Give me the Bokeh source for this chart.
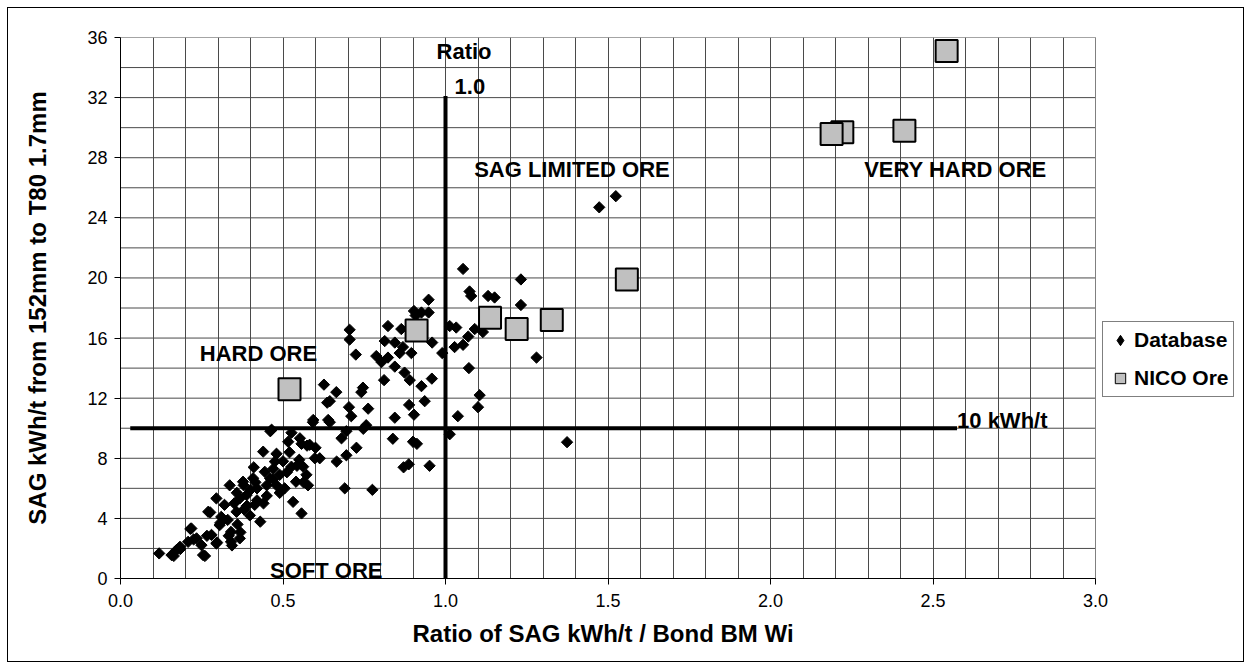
import math
from bokeh.plotting import figure
from bokeh.layouts import column
from bokeh.models import (Range1d, SingleIntervalTicker, FixedTicker, NumeralTickFormatter,
                          Legend, LegendItem, Label, Title, ColumnDataSource)
from bokeh.embed import file_html
from bokeh.resources import INLINE

# ---------------- data ----------------
db_x = [0.119, 0.157, 0.172, 0.183, 0.208, 0.218, 0.234, 0.254, 0.249, 0.27, 0.28, 0.295, 0.295, 0.305,
        0.32, 0.336, 0.34, 0.34, 0.357, 0.367, 0.367, 0.377, 0.388, 0.398, 0.408, 0.413, 0.43, 0.42,
        0.439, 0.444, 0.46, 0.465, 0.475, 0.49, 0.505, 0.516, 0.526, 0.531, 0.54, 0.552, 0.557, 0.562,
        0.572, 0.577, 0.582, 0.593, 0.598, 0.613, 0.639, 0.644, 0.665, 0.68, 0.69, 0.695, 0.695,
        0.164, 0.184, 0.215, 0.225, 0.26, 0.266, 0.276, 0.297, 0.307, 0.333, 0.343, 0.358, 0.369, 0.379,
        0.389, 0.415, 0.45, 0.47, 0.48, 0.49, 0.512, 0.543, 0.563, 0.574,
        0.31, 0.35, 0.38, 0.40, 0.42, 0.45, 0.47, 0.50, 0.52, 0.55, 0.36, 0.33, 0.41, 0.44, 0.48,
        0.526, 0.557, 0.60, 0.726, 0.747,
        1.054, 1.074, 1.079, 1.131, 1.151, 0.948, 0.903, 0.926, 0.948, 0.823, 1.013, 1.033, 0.864,
        0.705, 0.705, 0.813, 0.844, 1.028, 1.054, 0.959, 0.869, 0.859, 0.895, 0.99, 0.724, 0.787,
        0.803, 0.823, 0.844, 1.072, 0.874, 0.89, 0.811, 0.958, 0.926, 0.626, 0.664, 0.746, 0.636,
        0.741, 1.105, 1.10, 0.936, 0.888, 0.903, 1.038, 0.844, 0.703, 0.762, 0.592, 0.644, 0.71,
        0.756, 0.461, 1.013, 0.838, 0.90,
        1.232, 1.232, 1.28, 1.115, 1.07, 1.09, 0.908,
        0.912, 0.887, 0.871, 0.951, 1.374,
        1.473, 1.524, 0.775]
db_y = [1.67, 1.56, 1.89, 2.11, 2.44, 3.33, 2.67, 1.56, 2.22, 4.44, 2.9, 5.33, 2.33, 3.55,
        4.9, 6.2, 3.1, 2.44, 4.44, 5.33, 2.67, 6.44, 5.55, 4.2, 6.67, 4.9, 3.78, 6.0,
        8.44, 7.1, 6.67, 9.9, 7.78, 6.9, 6.0, 9.1, 7.44, 5.1, 6.44, 9.33, 4.33, 7.44,
        6.9, 6.2, 8.9, 10.55, 8.0, 8.0, 10.55, 11.8, 7.78, 9.33, 6.0, 8.2, 9.8,
        1.5, 1.96, 3.3, 2.6, 1.5, 2.84, 4.4, 2.4, 3.7, 2.84, 2.2, 5.7, 3.07, 6.2,
        4.84, 6.4, 5.5, 6.6, 8.3, 5.7, 7.07, 7.5, 6.4, 8.84,
        4.1, 5.0, 4.6, 5.9, 5.2, 6.2, 7.3, 7.8, 8.4, 7.9, 3.6, 3.9, 7.4, 5.0, 6.2,
        9.7, 8.96, 8.7, 8.7, 9.96,
        20.6, 19.1, 18.8, 18.8, 18.7, 18.55, 17.8, 17.7, 17.7, 16.8, 16.8, 16.7, 16.6,
        16.55, 15.9, 15.8, 15.7, 15.4, 15.55, 15.7, 15.4, 15.0, 15.0, 15.0, 14.9, 14.8,
        14.4, 14.7, 14.1, 14.0, 13.7, 13.2, 13.2, 13.3, 12.8, 12.9, 12.4, 12.7, 11.7,
        12.4, 12.2, 11.4, 11.8, 11.55, 10.9, 10.8, 10.7, 11.4, 11.3, 10.4, 10.4, 10.8,
        10.2, 9.8, 9.6, 9.3, 9.1,
        19.9, 18.2, 14.7, 16.4, 16.1, 16.6, 17.5,
        8.96, 7.6, 7.4, 7.5, 9.07,
        24.7, 25.44, 5.9]

nico_x = [0.52, 0.911, 1.137, 1.219, 1.327, 1.558, 2.221, 2.188, 2.412, 2.542]
nico_y = [12.6, 16.5, 17.35, 16.6, 17.2, 19.9, 29.69, 29.58, 29.8, 35.1]

series_names = ["Database", "NICO Ore"]

x_min, x_max = 0.0, 3.0
y_min, y_max = 0.0, 36.0
x_tick_values = [0.0, 0.5, 1.0, 1.5, 2.0, 2.5, 3.0]
y_tick_values = [0, 4, 8, 12, 16, 20, 24, 28, 32, 36]
y_grid_values = [2, 4, 6, 8, 10, 12, 14, 16, 18, 20, 22, 24, 26, 28, 30, 32, 34, 36]

ratio_line_x = [1.0, 1.0]
ratio_line_y = [0.0, 32.1]
kwh_line_x = [0.03, 2.574]
kwh_line_y = [10.0, 10.0]

note_texts = ["Ratio", "1.0", "SAG LIMITED ORE", "VERY HARD ORE", "HARD ORE", "SOFT ORE", "10 kWh/t"]
note_x = [1.057, 1.075, 1.389, 2.569, 0.605, 0.46, 2.574]
note_y = [35.07, 32.73, 27.2, 27.2, 15.0, 0.5, 10.53]
note_align = ["center", "center", "center", "center", "right", "left", "left"]

x_title = "Ratio of SAG kWh/t / Bond BM Wi"
y_title = "SAG kWh/t from 152mm to T80 1.7mm"

FONT = "Liberation Sans"

# ---------------- layout (pixels) ----------------
W, H = 1235, 653            # inside the outer 1px border
L, R, T, B = 112, 0, 29, 83  # borders around the frame
DATA_PX = 975               # width in px of the 0..3 data region
frame_w = W - L - R
x_end = x_max * frame_w / DATA_PX   # extra room at the right holds the legend

p = figure(width=W, height=H, output_backend="svg", toolbar_location=None,
           x_range=Range1d(x_min, x_end), y_range=Range1d(y_min, y_max),
           min_border_left=L, min_border_right=R, min_border_top=T, min_border_bottom=B)
p.outline_line_color = None

# grids: vertical lines via the grid, horizontal lines limited to the data region
p.xgrid.ticker = SingleIntervalTicker(interval=0.1, num_minor_ticks=0)
p.xgrid.bounds = (x_min, x_max)
p.xgrid.grid_line_color = "#4a4a4a"
p.ygrid.visible = False
p.segment(x0=[x_min] * len(y_grid_values), x1=[x_max] * len(y_grid_values),
          y0=y_grid_values, y1=y_grid_values, line_color="#4a4a4a", line_width=1)
p.line([x_max, x_max], [y_min, y_max], line_color="#808080", line_width=1)

# axes
p.xaxis.ticker = FixedTicker(ticks=x_tick_values)
p.yaxis.ticker = FixedTicker(ticks=y_tick_values)
p.xaxis.bounds = (x_min, x_max)
p.xaxis.formatter = NumeralTickFormatter(format="0.0")
for ax in (p.xaxis, p.yaxis):
    ax.axis_line_color = "#000000"
    ax.major_tick_line_color = "#000000"
    ax.major_tick_out = 6
    ax.major_tick_in = 0
    ax.minor_tick_out = 0
    ax.minor_tick_in = 0
    ax.major_label_text_font = FONT
    ax.major_label_text_font_size = "18px"
    ax.major_label_text_color = "#000000"
    ax.axis_label_text_font = FONT
    ax.axis_label_text_font_size = "24px"
    ax.axis_label_text_font_style = "bold"
    ax.axis_label_text_color = "#000000"
p.xaxis.major_label_standoff = 9
p.yaxis.major_label_standoff = 7
p.yaxis.axis_label = y_title
p.yaxis.axis_label_standoff = 33

# x title placed under the 0..3 region (the frame is wider because of the legend)
p.add_layout(Title(text=x_title, align="left", offset=292, standoff=16,
                   text_font=FONT, text_font_size="24px", text_font_style="bold",
                   text_color="#000000"), "below")

# reference lines
p.line(kwh_line_x, kwh_line_y, line_color="#000000", line_width=4)
p.line(ratio_line_x, ratio_line_y, line_color="#000000", line_width=4)

# legend keys: small markers hidden under the first point of each series
r_db_key = p.scatter(x=db_x[:1], y=db_y[:1], marker="diamond", size=9,
                     fill_color="#000000", line_color="#000000")
r_nico_key = p.scatter(x=nico_x[:1], y=nico_y[:1], marker="square", size=10,
                       fill_color="#C0C0C0", line_color="#000000", line_width=1)

# data
db_src = ColumnDataSource(dict(x=db_x, y=db_y))
r_db = p.scatter("x", "y", source=db_src, marker="square", size=8, angle=math.pi / 4,
                 fill_color="#000000", line_color="#000000")
nico_src = ColumnDataSource(dict(x=nico_x, y=nico_y))
r_nico = p.scatter("x", "y", source=nico_src, marker="square", size=22,
                   fill_color="#C0C0C0", line_color="#000000", line_width=2)

# annotations
for t, x, y, a in zip(note_texts, note_x, note_y, note_align):
    p.add_layout(Label(x=x, y=y, text=t, text_align=a, text_baseline="middle",
                       text_font=FONT, text_font_size="22px", text_font_style="bold",
                       text_color="#000000"))

legend = Legend(items=[LegendItem(label=series_names[0], renderers=[r_db_key]),
                       LegendItem(label=series_names[1], renderers=[r_nico_key])],
                location=(982, 181))
legend.label_text_font = FONT
legend.label_text_font_size = "21px"
legend.label_text_font_style = "bold"
legend.label_text_color = "#000000"
legend.border_line_color = "#000000"
legend.border_line_width = 1
legend.padding = 4
legend.spacing = 10
legend.margin = 0
legend.glyph_width = 26
legend.glyph_height = 28
legend.label_standoff = 1
legend.label_height = 28
p.add_layout(legend, "center")

root = column(p, styles={"border": "1px solid #000000", "margin-left": "7px", "margin-top": "7px"})

open("out.html", "w").write(file_html(root, INLINE))
